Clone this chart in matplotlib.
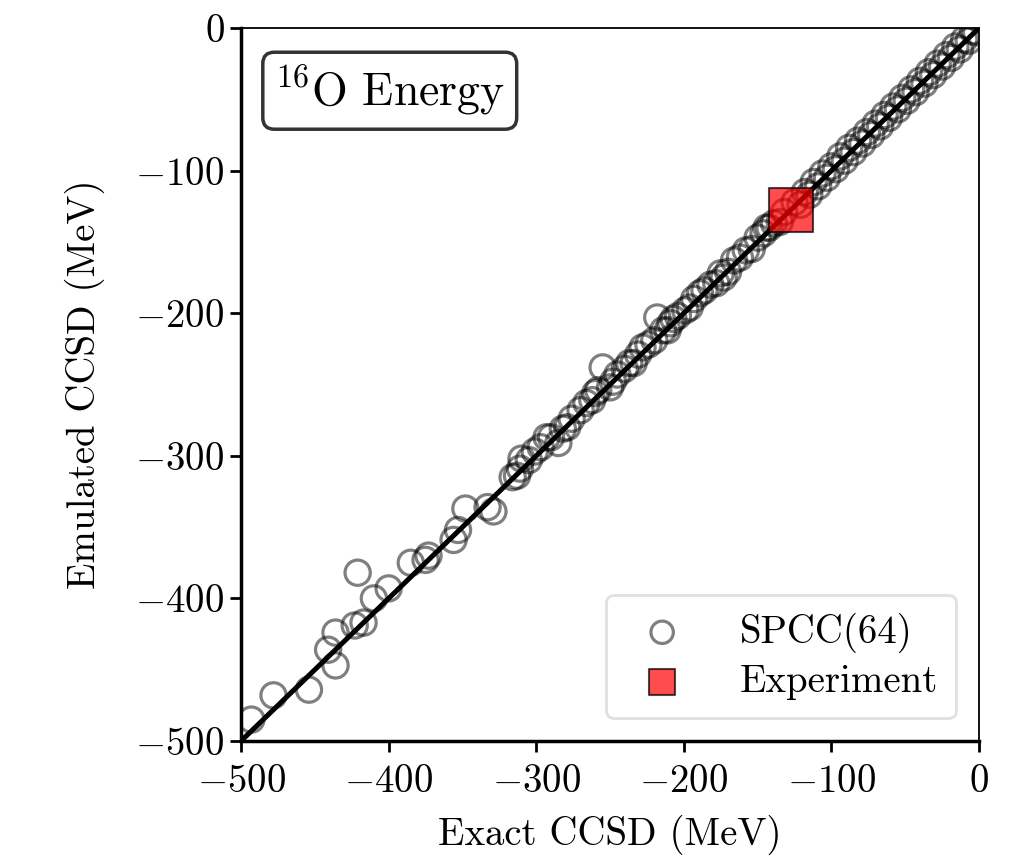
import numpy as np
import matplotlib
matplotlib.use('Agg')
import matplotlib.pyplot as plt

plt.rcParams['font.family'] = 'serif'
plt.rcParams['font.serif'] = ['cmr10']
plt.rcParams['mathtext.fontset'] = 'cm'
plt.rcParams['axes.formatter.use_mathtext'] = True

# SPCC(64) emulator vs exact CCSD (MeV)
exactCCSD = [-493, -478, -454, -436, -441, -436, -421, -423, -417, -410, -400,
             -385, -373, -375, -356, -353, -348, -333, -329,
             -316, -313, -311, -310, -305, -301, -297, -293, -290, -285, -282,
             -279, -276, -270, -266, -262, -260, -258, -255, -250, -248, -245,
             -240, -237, -234, -231, -228, -224, -220, -218, -214, -211, -209,
             -207, -204, -199, -196, -193, -189, -186, -182, -178, -175, -173,
             -170, -166, -162, -158, -154, -150, -146, -144, -142, -139, -135,
             -132, -125, -121, -118, -115, -112, -109, -106, -103, -100, -97,
             -94, -91, -88, -85, -82, -79, -76, -73, -70, -67, -64, -61, -58,
             -55, -52, -49, -46, -43, -40, -37, -34, -31, -28, -25, -22, -19,
             -16, -13, -10, -7, -4, -2]
emulatedCCSD = [-485, -468, -464, -447, -436, -424, -382, -419, -417, -400, -393,
                -375, -370, -373, -359, -352, -337, -336, -339,
                -315, -314, -309, -302, -303, -297, -294, -287, -287, -291, -281,
                -280, -274, -268, -263, -261, -256, -254, -238, -252, -248, -243,
                -239, -235, -235, -229, -224, -222, -219, -203, -212, -212, -207,
                -204, -202, -198, -196, -190, -186, -184, -180, -179, -172, -175,
                -171, -163, -161, -156, -155, -147, -144, -140, -140, -137, -136,
                -129, -122, -124, -115, -117, -108, -111, -102, -105, -97, -99,
                -90, -93, -84, -87, -79, -81, -73, -75, -67, -69, -61, -63, -55,
                -57, -49, -51, -43, -45, -37, -39, -31, -33, -25, -27, -19, -21,
                -13, -15, -8, -9, -2, -3]

expEnergy = [-127.6]

fig = plt.figure(figsize=(10.35, 8.6), dpi=100)
ax = fig.add_axes([0.2329, 0.1384, 0.713, 0.829])

ax.plot([-500, 0], [-500, 0], color='k', lw=3.6, zorder=3)
ax.scatter(exactCCSD, emulatedCCSD, s=330, facecolors='none', edgecolors='k',
           linewidths=2.3, alpha=0.5, zorder=2, label='SPCC(64)')
ax.scatter(expEnergy, expEnergy, marker='s', s=1000, color='red', alpha=0.7,
           edgecolors='k', linewidths=1.5, zorder=4, label='Experiment')

ax.set_xlim(-500, 0)
ax.set_ylim(-500, 0)
ax.set_xticks([-500, -400, -300, -200, -100, 0])
ax.set_yticks([-500, -400, -300, -200, -100, 0])
ax.tick_params(labelsize=28, length=8, width=2, direction='out', pad=4)
ax.tick_params(axis='x', pad=9)
ax.set_xlabel('Exact CCSD (MeV)', fontsize=28, labelpad=10)
ax.set_ylabel('Emulated CCSD (MeV)', fontsize=28, labelpad=22)

for side in ['left', 'bottom']:
    ax.spines[side].set_linewidth(2.5)
for side in ['top', 'right']:
    ax.spines[side].set_linewidth(1.3)

ax.text(0.045, 0.95, r'$^{16}$O Energy', transform=ax.transAxes, fontsize=33,
        va='top', ha='left',
        bbox=dict(boxstyle='round,pad=0.25', facecolor='white', edgecolor='0.2', lw=2.5))

leg = ax.legend(loc='lower right', fontsize=28, borderpad=0.45,
                handletextpad=1.0, labelspacing=0.3, frameon=True, fancybox=True,
                borderaxespad=0.6)
leg.legend_handles[0].set_sizes([260])
leg.legend_handles[1].set_sizes([330])
leg.get_frame().set_linewidth(2)
leg.get_frame().set_edgecolor('0.85')

fig.savefig('out.png', dpi=100)
